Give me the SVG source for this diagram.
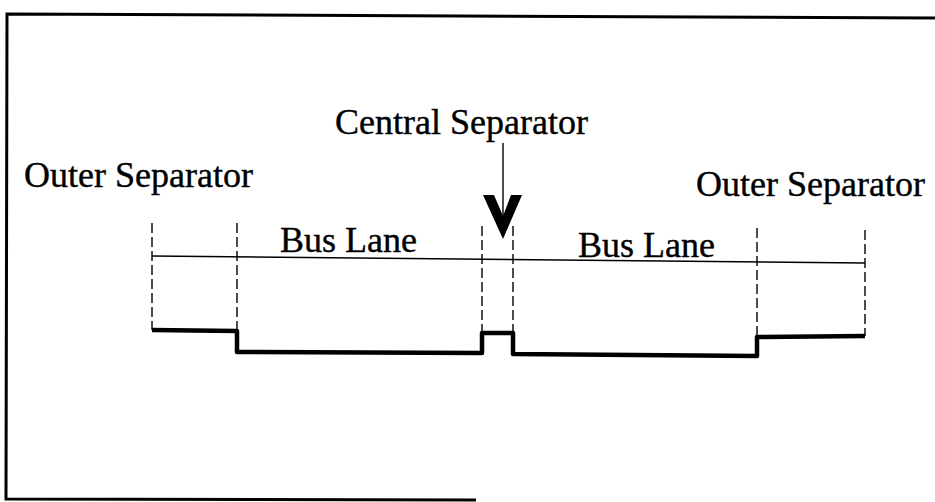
<svg xmlns="http://www.w3.org/2000/svg" width="935" height="502" viewBox="0 0 935 502">
<style>
.t{font-family:"Liberation Serif","Times New Roman",serif;font-size:36px;fill:#000;stroke:#000;stroke-width:0.4}
.dash{stroke:#000;stroke-width:1.4;stroke-dasharray:10 4;fill:none}
.frame{stroke:#000;stroke-width:3;fill:none}
.prof{stroke:#000;stroke-width:4.5;fill:none;stroke-linejoin:round}
</style>
<rect width="935" height="502" fill="#fff"/>
<g id="frame">
<polyline class="frame" points="935,18 7,14 6,499 476,500"/>
</g>
<g id="labels">
<text id="central-label" class="t" x="335" y="134">Central Separator</text>
<text id="outer-left-label" class="t" x="24" y="187">Outer Separator</text>
<text id="outer-right-label" class="t" x="696" y="196">Outer Separator</text>
<text id="bus-left-label" class="t" x="280" y="252">Bus Lane</text>
<text id="bus-right-label" class="t" x="578" y="257">Bus Lane</text>
</g>
<g id="road">
<line x1="152" y1="256" x2="865" y2="263" stroke="#000" stroke-width="1.6"/>
<polyline class="prof" points="152,330 237,331 237,352 482,353 482,333 513,333 513,354 757,356 757,337 865,336"/>
</g>
<g id="connectors">
<line class="dash" x1="152" y1="223" x2="152" y2="330"/>
<line class="dash" x1="237" y1="223" x2="237" y2="331"/>
<line class="dash" x1="482" y1="226" x2="482" y2="333"/>
<line class="dash" x1="513" y1="226" x2="513" y2="333"/>
<line class="dash" x1="757" y1="228" x2="757" y2="337"/>
<line class="dash" x1="865" y1="230" x2="865" y2="336"/>
<line x1="503" y1="143" x2="503" y2="225" stroke="#000" stroke-width="1.4"/>
<polygon points="483,195 494,195 503,216 511,195 522,195 503,239" fill="#000"/>
</g>
</svg>
